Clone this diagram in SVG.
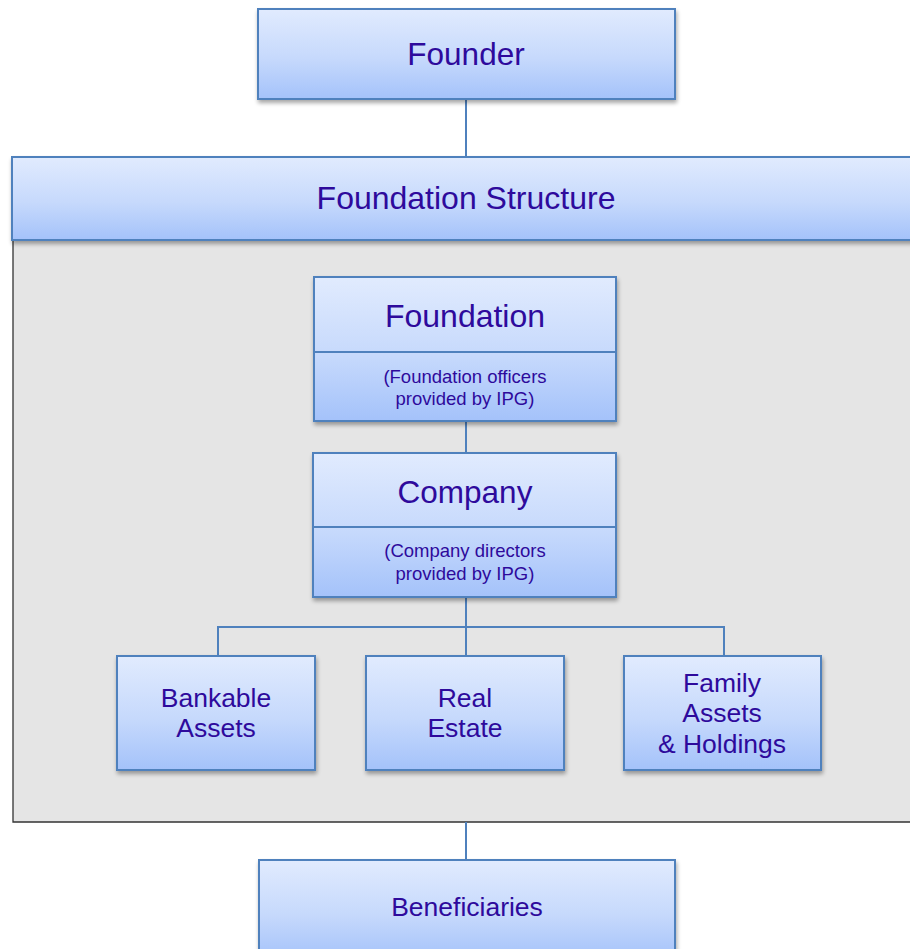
<svg xmlns="http://www.w3.org/2000/svg" width="910" height="949" viewBox="0 0 910 949">
<defs>
<linearGradient id="g" x1="0" y1="0" x2="0" y2="1">
<stop offset="0" stop-color="#e1ebfe"/>
<stop offset="0.55" stop-color="#c6d9fc"/>
<stop offset="1" stop-color="#a4c2fa"/>
</linearGradient>
<filter id="sh" x="-5%" y="-5%" width="110%" height="120%">
<feGaussianBlur in="SourceAlpha" stdDeviation="2"/>
<feOffset dx="1" dy="3" result="o"/>
<feComponentTransfer><feFuncA type="linear" slope="0.35"/></feComponentTransfer>
<feMerge><feMergeNode/><feMergeNode in="SourceGraphic"/></feMerge>
</filter>
</defs>
<style>
.box{fill:url(#g);stroke:#4f81bd;stroke-width:2;filter:url(#sh)}
.t{font-family:"Liberation Sans",Arial,sans-serif;fill:#2e0a9c;text-anchor:middle}
.c{stroke:#4f81bd;stroke-width:2;fill:none}
.m{font-size:26.5px}
.s{font-size:18.5px}
</style>
<rect width="910" height="949" fill="#ffffff"/>
<g id="panel">
<rect x="13" y="240" width="900" height="582" fill="#e5e5e5"/>
<path d="M13 240 V822 H910" fill="none" stroke="#333333" stroke-width="1.3"/>
</g>
<g id="connectors">
<path class="c" d="M466 99 V157"/>
<path class="c" d="M466 421 V453"/>
<path class="c" d="M466 597 V656"/>
<path class="c" d="M218 656 V627 H724 V656"/>
<path class="c" d="M466 822 V860"/>
</g>
<g id="founder">
<rect class="box" x="258" y="9" width="417" height="90"/>
<text class="t" x="466" y="65" font-size="31.5">Founder</text>
</g>
<g id="foundation-structure">
<rect class="box" x="12" y="157" width="910" height="83"/>
<text class="t" x="466" y="209" font-size="32">Foundation Structure</text>
</g>
<g id="foundation">
<rect class="box" x="314" y="277" width="302" height="144"/>
<line x1="314" y1="352" x2="616" y2="352" stroke="#4f81bd" stroke-width="2"/>
<text class="t" x="465" y="327" font-size="32">Foundation</text>
<text class="t s" x="465" y="383">(Foundation officers</text>
<text class="t s" x="465" y="405">provided by IPG)</text>
</g>
<g id="company">
<rect class="box" x="313" y="453" width="303" height="144"/>
<line x1="313" y1="527" x2="616" y2="527" stroke="#4f81bd" stroke-width="2"/>
<text class="t" x="465" y="503" font-size="31.5">Company</text>
<text class="t s" x="465" y="557">(Company directors</text>
<text class="t s" x="465" y="580">provided by IPG)</text>
</g>
<g id="bankable">
<rect class="box" x="117" y="656" width="198" height="114"/>
<text class="t m" x="216" y="707">Bankable</text>
<text class="t m" x="216" y="737">Assets</text>
</g>
<g id="real-estate">
<rect class="box" x="366" y="656" width="198" height="114"/>
<text class="t m" x="465" y="707">Real</text>
<text class="t m" x="465" y="737">Estate</text>
</g>
<g id="family">
<rect class="box" x="624" y="656" width="197" height="114"/>
<text class="t m" x="722" y="692">Family</text>
<text class="t m" x="722" y="722">Assets</text>
<text class="t m" x="722" y="753">&amp; Holdings</text>
</g>
<g id="beneficiaries">
<rect class="box" x="259" y="860" width="416" height="100"/>
<text class="t m" x="467" y="916">Beneficiaries</text>
</g>
</svg>
